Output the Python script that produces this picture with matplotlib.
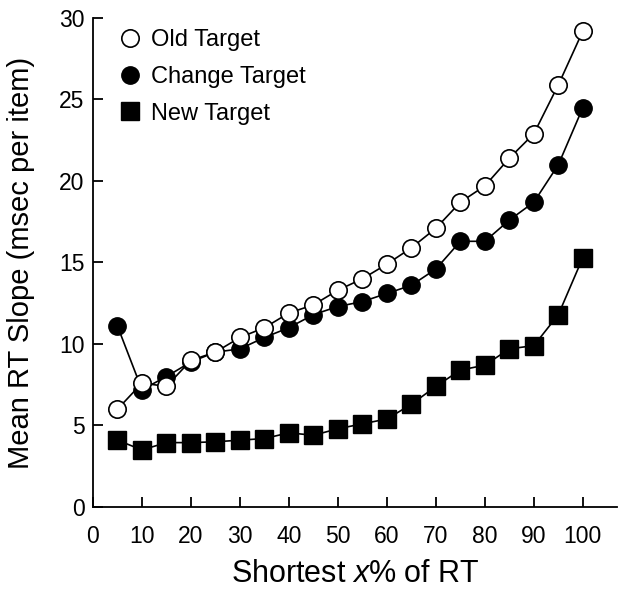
import matplotlib
matplotlib.use('Agg')
import matplotlib.pyplot as plt
from matplotlib.lines import Line2D

plt.rcParams['font.family'] = ['Liberation Sans', 'DejaVu Sans']
plt.rcParams['mathtext.fontset'] = 'custom'
plt.rcParams['mathtext.it'] = 'Liberation Sans:italic'
plt.rcParams['mathtext.rm'] = 'Liberation Sans'

# data
shortest_pct = [5, 10, 15, 20, 25, 30, 35, 40, 45, 50,
                55, 60, 65, 70, 75, 80, 85, 90, 95, 100]
old_target = [6.0, 7.6, 7.4, 9.0, 9.5, 10.4, 11.0, 11.9, 12.4, 13.3,
              14.0, 14.9, 15.9, 17.1, 18.7, 19.7, 21.4, 22.9, 25.9, 29.2]
change_target = [11.1, 7.2, 8.0, 8.9, 9.5, 9.7, 10.4, 11.0, 11.8, 12.3,
                 12.6, 13.1, 13.6, 14.6, 16.3, 16.3, 17.6, 18.7, 21.0, 24.5]
new_target = [4.1, 3.5, 3.95, 3.95, 4.0, 4.1, 4.2, 4.55, 4.4, 4.8,
              5.1, 5.4, 6.3, 7.4, 8.4, 8.7, 9.7, 9.9, 11.8, 15.3]

fig = plt.figure(figsize=(6.24, 5.92), dpi=100)
ax = fig.add_axes([0.149, 0.1436, 0.84, 0.826])

ax.plot(shortest_pct, new_target, color='black', lw=1.2, marker='s',
        markersize=13.5, mfc='black', mec='black', zorder=2)
ax.plot(shortest_pct, change_target, color='black', lw=1.2, marker='o',
        markersize=12.5, mfc='black', mec='black', zorder=3)
ax.plot(shortest_pct, old_target, color='black', lw=1.2, marker='o',
        markersize=12.5, mfc='white', mec='black', mew=1.2, zorder=4)

ax.set_xlim(0, 107)
ax.set_ylim(0, 30)
ax.set_xticks(range(0, 101, 10))
ax.set_yticks(range(0, 31, 5))
ax.spines['top'].set_visible(False)
ax.spines['right'].set_visible(False)
for s in ['left', 'bottom']:
    ax.spines[s].set_linewidth(1.3)
ax.tick_params(direction='in', length=7, width=1.3, labelsize=16.5)
ax.tick_params(axis='x', pad=13)
ax.tick_params(axis='y', pad=6)

ax.set_xlabel('Shortest $x$% of RT', fontsize=22, labelpad=8)
ax.set_ylabel('Mean RT Slope (msec per item)', fontsize=21)
ax.yaxis.set_label_coords(-0.111, 0.5)

handles = [
    Line2D([], [], ls='none', marker='o', markersize=12.5, mfc='white', mec='black', mew=1.2),
    Line2D([], [], ls='none', marker='o', markersize=12.5, mfc='black', mec='black'),
    Line2D([], [], ls='none', marker='s', markersize=12.5, mfc='black', mec='black'),
]
ax.legend(handles, ['Old Target', 'Change Target', 'New Target'],
          loc='upper left', bbox_to_anchor=(0.008, 1.02), frameon=False,
          fontsize=17, handlelength=1.0, handletextpad=0.4, labelspacing=0.62)

fig.savefig('out.png', dpi=100)
